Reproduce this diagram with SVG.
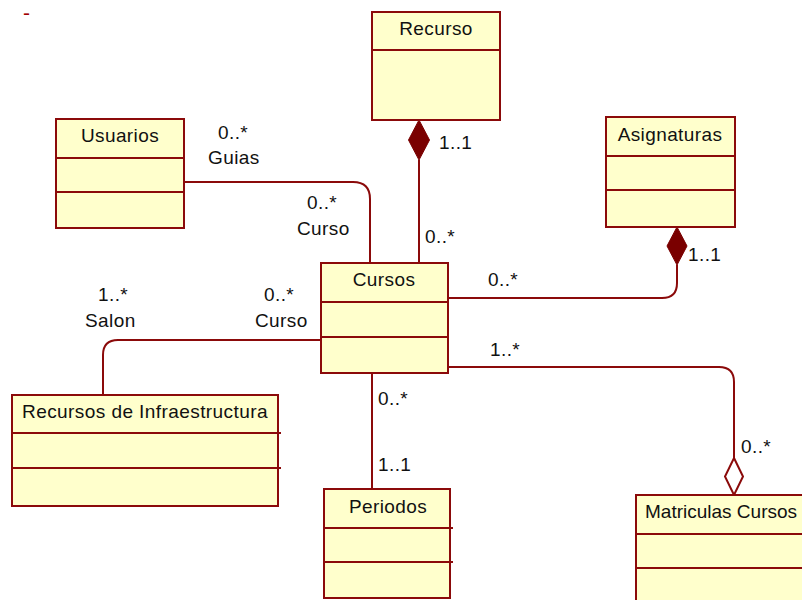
<svg xmlns="http://www.w3.org/2000/svg" width="802" height="600" viewBox="0 0 802 600">
<style>
.box{fill:#FFFFCC;stroke:#8B0A0A;stroke-width:2}
.div{stroke:#8B0A0A;stroke-width:2;fill:none}
.con{stroke:#8B0A0A;stroke-width:2;fill:none}
.fd{fill:#7A0000;stroke:#7A0000;stroke-width:1}
.hd{fill:#FFFFFF;stroke:#8B0A0A;stroke-width:2}
text{font-family:"Liberation Sans",Arial,sans-serif;font-size:19px;fill:#111;letter-spacing:0.4px}
.c{text-anchor:middle}
</style>
<rect width="802" height="600" fill="#FFFFFF"/>
<text x="23" y="20" style="fill:#A00000;font-size:21px">-</text>
<g id="connectors">
  <path class="con" d="M184,182 H353 Q370,182 370,199 V263"/>
  <path class="con" d="M419,160 V263"/>
  <path class="fd" d="M419,120 L429.5,140 L419,160 L408.5,140 Z"/>
  <path class="con" d="M448,298 H662 Q677,298 677,283 V265"/>
  <path class="fd" d="M677,227 L687,246 L677,265 L667,246 Z"/>
  <path class="con" d="M321,340 H118 Q103,340 103,355 V395"/>
  <path class="con" d="M372,373 V489"/>
  <path class="con" d="M448,367 H719 Q734,367 734,382 V458"/>
  <path class="hd" d="M734,458 L743,476.5 L734,495 L725,476.5 Z"/>
</g>
<g id="labels">
  <text x="218" y="139">0..*</text>
  <text x="208" y="164">Guias</text>
  <text x="307" y="209">0..*</text>
  <text x="297" y="235">Curso</text>
  <text x="439" y="149">1..1</text>
  <text x="425" y="243">0..*</text>
  <text x="488" y="286">0..*</text>
  <text x="688" y="261">1..1</text>
  <text x="98" y="301">1..*</text>
  <text x="85" y="327">Salon</text>
  <text x="264" y="301">0..*</text>
  <text x="255" y="327">Curso</text>
  <text x="490" y="356">1..*</text>
  <text x="378" y="405">0..*</text>
  <text x="378" y="471">1..1</text>
  <text x="741" y="453">0..*</text>
</g>
<g id="Recurso">
  <rect class="box" x="372" y="12" width="128" height="108"/>
  <line class="div" x1="372" y1="50" x2="500" y2="50"/>
  <text class="c" x="436" y="35">Recurso</text>
</g>
<g id="Usuarios">
  <rect class="box" x="56" y="119" width="128" height="109"/>
  <line class="div" x1="56" y1="158" x2="184" y2="158"/>
  <line class="div" x1="56" y1="192" x2="184" y2="192"/>
  <text class="c" x="120" y="142">Usuarios</text>
</g>
<g id="Asignaturas">
  <rect class="box" x="606" y="117" width="129" height="110"/>
  <line class="div" x1="606" y1="156" x2="735" y2="156"/>
  <line class="div" x1="606" y1="190" x2="735" y2="190"/>
  <text class="c" x="670" y="141">Asignaturas</text>
</g>
<g id="Cursos">
  <rect class="box" x="321" y="263" width="127" height="110"/>
  <line class="div" x1="321" y1="302" x2="448" y2="302"/>
  <line class="div" x1="321" y1="337" x2="448" y2="337"/>
  <text class="c" x="384" y="286">Cursos</text>
</g>
<g id="RecursosInfraestructura">
  <rect class="box" x="12" y="395" width="266" height="111"/>
  <line class="div" x1="12" y1="433" x2="281" y2="433"/>
  <line class="div" x1="12" y1="468" x2="281" y2="468"/>
  <text x="22" y="418" textLength="246" lengthAdjust="spacingAndGlyphs">Recursos de Infraestructura</text>
</g>
<g id="Periodos">
  <rect class="box" x="324" y="489" width="126" height="109"/>
  <line class="div" x1="324" y1="528" x2="453" y2="528"/>
  <line class="div" x1="324" y1="562" x2="453" y2="562"/>
  <text class="c" x="388" y="513">Periodos</text>
</g>
<g id="MatriculasCursos">
  <rect class="box" x="636" y="495" width="172" height="110"/>
  <line class="div" x1="636" y1="534" x2="808" y2="534"/>
  <line class="div" x1="636" y1="568" x2="808" y2="568"/>
  <text x="645" y="518" style="letter-spacing:0">Matriculas Cursos</text>
</g>
</svg>
